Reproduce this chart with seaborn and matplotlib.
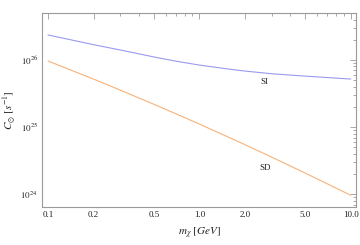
import numpy as np
import pandas as pd
import seaborn as sns
import matplotlib
matplotlib.use("Agg")
import matplotlib.pyplot as plt
from matplotlib.ticker import FixedLocator, FixedFormatter, LogLocator, NullFormatter

# data
mass = [0.1, 0.2, 0.3, 0.5, 0.7, 1.0, 1.5, 2.0, 3.0, 5.0, 10.0]
si_vals = [2.36e26, 1.69e26, 1.41e26, 1.11e26, 9.6e25, 8.4e25, 7.41e25, 6.84e25,
           6.24e25, 5.75e25, 5.2e25]
sd_vals = [9.66e25, 5.19e25, 3.56e25, 2.19e25, 1.58e25, 1.11e25, 7.36e24, 5.48e24,
           3.58e24, 2.07e24, 9.66e23]
xticks = [0.1, 0.2, 0.5, 1.0, 2.0, 5.0, 10.0]
xticklabels = ["0.1", "0.2", "0.5", "1.0", "2.0", "5.0", "10.0"]
yticks = [1e24, 1e25, 1e26]
yticklabels = [r"$10^{24}$", r"$10^{25}$", r"$10^{26}$"]

df = pd.DataFrame({
    "m": mass * 2,
    "C": si_vals + sd_vals,
    "kind": ["SI"] * len(mass) + ["SD"] * len(mass),
})

sns.set_theme(style="white")
plt.rcParams["font.family"] = ["Liberation Serif", "DejaVu Serif"]
plt.rcParams["mathtext.fontset"] = "stix"

fig = plt.figure(figsize=(3.6, 2.45), dpi=100)
ax = fig.add_axes([42 / 360, 1 - 207 / 245, 314 / 360, 194 / 245])

sns.lineplot(data=df, x="m", y="C", hue="kind", hue_order=["SI", "SD"],
             palette={"SI": "#9a9aef", "SD": "#f7b27a"}, linewidth=0.8,
             legend=False, ax=ax)
ax.set_xscale("log")
ax.set_yscale("log")
ax.set_xlim(10 ** -1.04, 10 ** 1.035)
ax.set_ylim(10 ** 23.81, 10 ** 26.70)

frame_col = "#9a9a9a"
for s in ax.spines.values():
    s.set_color(frame_col)
    s.set_linewidth(0.8)

ax.xaxis.set_major_locator(FixedLocator(xticks))
ax.xaxis.set_major_formatter(FixedFormatter(xticklabels))
ax.xaxis.set_minor_locator(FixedLocator([0.3, 0.4, 0.6, 0.7, 0.8, 0.9, 3, 4, 6, 7, 8, 9]))
ax.xaxis.set_minor_formatter(NullFormatter())
ax.yaxis.set_major_locator(FixedLocator(yticks))
ax.yaxis.set_major_formatter(FixedFormatter(yticklabels))
ax.yaxis.set_minor_locator(LogLocator(base=10, subs=np.arange(2, 10), numticks=20))
ax.yaxis.set_minor_formatter(NullFormatter())

ax.tick_params(which="both", direction="in", top=True, right=True,
               color=frame_col, width=0.6, labelsize=6.5, labelcolor="#222222")
ax.tick_params(which="major", length=4, pad=3)
ax.tick_params(which="minor", length=2)

ax.set_xlabel(r"$m_{\chi}\ [GeV]$", fontsize=8, labelpad=5, color="#222222")
ax.set_ylabel(r"$C_{\odot}\ \left[s^{-1}\right]$", fontsize=8, labelpad=2, color="#222222")

ax.text(10 ** ((265 - 199.5) / 151.5), 10 ** (26 - (82 - 60) / 67), "SI",
        fontsize=6.5, ha="center", va="center", color="#222222")
ax.text(10 ** ((265 - 199.5) / 151.5), 10 ** (25 - (168 - 127) / 67), "SD",
        fontsize=6.5, ha="center", va="center", color="#222222")

fig.savefig("out.png", dpi=100)
